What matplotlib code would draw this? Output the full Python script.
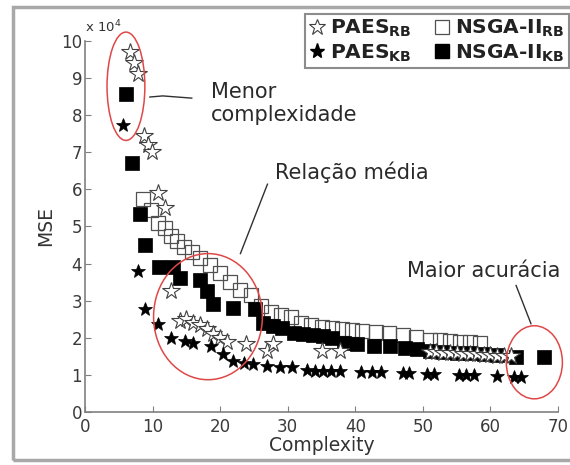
import matplotlib
matplotlib.use('Agg')
import matplotlib.pyplot as plt
from matplotlib.patches import Ellipse, Rectangle
from matplotlib.lines import Line2D

# --- data (complexity, MSE in units of 1e4) ---
paes_rb_c = [6.6, 7.2, 7.8, 8.8, 9.3, 9.9, 10.8, 11.8, 12.8, 14, 15, 16, 17, 18, 19, 20, 21,
             23.9, 26.9, 27.8, 35, 37.7, 51, 52, 53, 54, 55, 56, 57, 58, 59, 60, 61, 62, 63]
paes_rb_v = [9.7, 9.4, 9.1, 7.45, 7.2, 7.0, 5.9, 5.5, 3.25, 2.45, 2.5, 2.4, 2.35, 2.25, 2.1, 2.0, 1.9,
             1.84, 1.65, 1.84, 1.65, 1.65, 1.62, 1.61, 1.6, 1.59, 1.58, 1.57, 1.56, 1.55, 1.54, 1.53,
             1.52, 1.51, 1.5]

paes_kb_c = [5.6, 7.9, 8.9, 10.8, 12.8, 14.8, 16.0, 18.7, 20.4, 21.9, 23.5, 24.8, 26.9, 28.8, 30.7,
             32.8, 34.0, 35.2, 36.4, 37.7, 40.8, 42.5, 43.8, 47.0, 48.0, 50.6, 51.7, 55.4, 56.4, 57.6,
             60.9, 63.5, 64.5]
paes_kb_v = [7.73, 3.8, 2.78, 2.38, 2.0, 1.92, 1.87, 1.78, 1.56, 1.38, 1.33, 1.3, 1.25, 1.2, 1.2,
             1.12, 1.1, 1.1, 1.1, 1.1, 1.08, 1.08, 1.07, 1.05, 1.05, 1.03, 1.03, 1.0, 1.0, 1.0,
             0.97, 0.95, 0.95]

nsga_rb_c = [8.6, 9.8, 10.8, 11.8, 12.7, 13.6, 14.6, 15.8, 17.0, 18.5, 20.0, 21.5, 23.0, 24.5, 26.0,
             27.5, 29.0, 30.5, 32, 33.5, 35, 36.5, 38, 39.5, 41, 43, 45, 47, 49, 51, 52.5, 54, 55.5,
             57, 58.5]
nsga_rb_v = [5.75, 5.45, 5.1, 4.95, 4.75, 4.6, 4.45, 4.3, 4.15, 3.95, 3.75, 3.5, 3.3, 3.15, 2.85,
             2.7, 2.62, 2.55, 2.4, 2.35, 2.3, 2.27, 2.23, 2.2, 2.18, 2.15, 2.12, 2.08, 2.02, 1.95, 1.93,
             1.92, 1.9, 1.88, 1.87]

nsga_kb_c = [6.1, 6.9, 8.1, 8.9, 10.9, 13.0, 14.0, 17.0, 18.0, 18.9, 21.9, 25.1, 26.3, 27.8, 29.2,
             31.0, 32.2, 33.7, 35.2, 36.6, 38.4, 40.3, 42.8, 45.1, 47.3, 49.2, 51, 53, 55, 57, 59, 61,
             63.8, 68.0]
nsga_kb_v = [8.57, 6.7, 5.35, 4.49, 3.9, 3.9, 3.6, 3.55, 3.27, 2.9, 2.8, 2.78, 2.4, 2.33, 2.27,
             2.14, 2.1, 2.08, 2.05, 2.0, 1.87, 1.83, 1.78, 1.78, 1.73, 1.7, 1.65, 1.63, 1.6, 1.58, 1.56,
             1.54, 1.48, 1.48]

labels = [r'PAES$_{\mathbf{RB}}$', r'PAES$_{\mathbf{KB}}$',
          r'NSGA-II$_{\mathbf{RB}}$', r'NSGA-II$_{\mathbf{KB}}$']

# red highlight ellipses: (center c, center v, width, height)
highlights = [(6.06, 8.78, 5.6, 2.92), (18.2, 2.57, 16.1, 3.4), (66.5, 1.34, 8.3, 1.97)]
notes = ['Menor\ncomplexidade', 'Relação média', 'Maior acurácia']
note_pos = [(18.6, 8.32), (28.1, 6.46), (47.7, 3.81)]
leaders = [([9.6, 11.5, 15.8], [8.49, 8.52, 8.46]),
           ([27.0, 23.0], [6.14, 4.27]),
           ([63.8, 66.0], [3.41, 2.38])]

plt.rcParams['mathtext.fontset'] = 'dejavusans'

fig = plt.figure(figsize=(5.7, 4.65), dpi=100)
ax = fig.add_axes([85/570, 1 - 412/465, (558 - 85)/570, (412 - 41)/465])

ax.plot(nsga_rb_c, nsga_rb_v, 's', ms=10.5, mfc='none', mec='#505050', mew=0.9, zorder=2)
ax.plot(nsga_kb_c, nsga_kb_v, 's', ms=10.5, mfc='black', mec='black', mew=0.5, zorder=3)
ax.plot(paes_rb_c, paes_rb_v, '*', ms=13, mfc='white', mec='#404040', mew=0.8, zorder=4)
ax.plot(paes_kb_c, paes_kb_v, '*', ms=10, mfc='black', mec='black', mew=0.5, zorder=5)

for (cx, cy, w, h) in highlights:
    ax.add_patch(Ellipse((cx, cy), w, h, fill=False, edgecolor='#e04848', lw=1.1,
                         clip_on=False, zorder=6))
for (xs, ys) in leaders:
    ax.plot(xs, ys, color='#303030', lw=1.0, clip_on=False, zorder=6)
for txt, (tx, ty) in zip(notes, note_pos):
    ax.text(tx, ty, txt, fontsize=15, color='#2a2a2a', va='center', ha='left',
            linespacing=1.15, family='DejaVu Sans')

ax.set_xlim(0, 70)
ax.set_ylim(0, 10)
ax.set_xticks(range(0, 71, 10))
ax.set_yticks(range(0, 11))
for s in ['top', 'right']:
    ax.spines[s].set_visible(False)
for s in ['left', 'bottom']:
    ax.spines[s].set_color('#808080')
    ax.spines[s].set_linewidth(1.2)
ax.tick_params(direction='in', length=4, color='#808080', labelsize=12, labelcolor='#3a3a3a', pad=2)
ax.tick_params(axis='x', pad=4)
ax.set_xlabel('Complexity', fontsize=13.5, color='#333333', labelpad=0)
ax.set_ylabel('MSE', fontsize=13.5, color='#333333', labelpad=4)
ax.text(0, 1.015, r'x 10$^4$', transform=ax.transAxes, fontsize=9.5, color='#333333',
        ha='left', va='bottom')

handles = [Line2D([], [], ls='none', marker='*', ms=12, mfc='white', mec='#404040', mew=0.8),
           Line2D([], [], ls='none', marker='*', ms=11, mfc='black', mec='black'),
           Line2D([], [], ls='none', marker='s', ms=10, mfc='white', mec='#505050', mew=0.9),
           Line2D([], [], ls='none', marker='s', ms=10, mfc='black', mec='black')]
leg = fig.legend(handles, labels, ncol=2, loc='upper left', bbox_to_anchor=(305/570, 1 - 14/465),
                 borderaxespad=0, frameon=True, fancybox=False, edgecolor='#707070', borderpad=0.2,
                 handlelength=0.8, handletextpad=0.25, columnspacing=1.1, labelspacing=0.15,
                 prop={'size': 14.5, 'weight': 'bold'})
leg.get_frame().set_linewidth(1.5)
for t in leg.get_texts():
    t.set_color('#222222')

# outer frame of the picture
fig.add_artist(Rectangle((13/570, 1 - 460/465), 1.1, (460 - 7)/465, transform=fig.transFigure,
                         fill=False, edgecolor='#a8a8a8', lw=2.5))

fig.savefig('out.png', dpi=100)
